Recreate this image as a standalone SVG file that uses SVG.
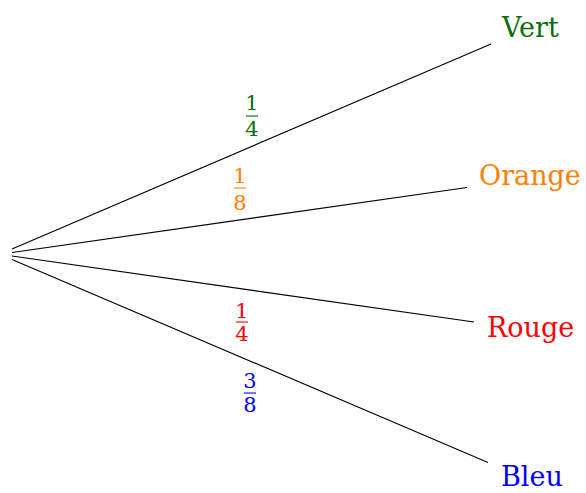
<svg xmlns="http://www.w3.org/2000/svg" width="586" height="493" viewBox="0 0 586 493">
<style>
.lbl{font-family:"DejaVu Serif","Liberation Serif",serif;font-size:27px}
.frac{font-family:"DejaVu Serif","Liberation Serif",serif;font-size:21px;text-anchor:middle}
.edge{stroke:#000;stroke-width:1.1;fill:none}
</style>
<rect width="586" height="493" fill="#fff"/>
<g id="connectors">
<line class="edge" x1="12" y1="249" x2="491" y2="44"/>
<line class="edge" x1="12" y1="252.5" x2="467" y2="187.5"/>
<line class="edge" x1="12" y1="256" x2="474" y2="322"/>
<line class="edge" x1="12" y1="259.5" x2="488" y2="462.5"/>
</g>
<g id="vert"><text class="lbl" x="502" y="37" fill="#0a6e0a">Vert</text></g>
<g id="orange"><text class="lbl" x="479" y="185" fill="#ff8000">Orange</text></g>
<g id="rouge"><text class="lbl" x="487" y="337" fill="#ff0000">Rouge</text></g>
<g id="bleu"><text class="lbl" x="501" y="486" fill="#0000ff">Bleu</text></g>
<g id="p-vert" fill="#0a6e0a">
<text class="frac" x="252" y="110">1</text>
<rect x="246" y="115.5" width="12" height="1.1"/>
<text class="frac" x="252" y="135.5">4</text>
</g>
<g id="p-orange" fill="#ff8000">
<text class="frac" x="240" y="183">1</text>
<rect x="234" y="187.5" width="12" height="1.1"/>
<text class="frac" x="240" y="209.5">8</text>
</g>
<g id="p-rouge" fill="#ff0000">
<text class="frac" x="242" y="318">1</text>
<rect x="236" y="321.5" width="12" height="1.1"/>
<text class="frac" x="242" y="340.5">4</text>
</g>
<g id="p-bleu" fill="#0000ff">
<text class="frac" x="250" y="387.5">3</text>
<rect x="244" y="392.5" width="12" height="1.1"/>
<text class="frac" x="250" y="411.5">8</text>
</g>
</svg>
